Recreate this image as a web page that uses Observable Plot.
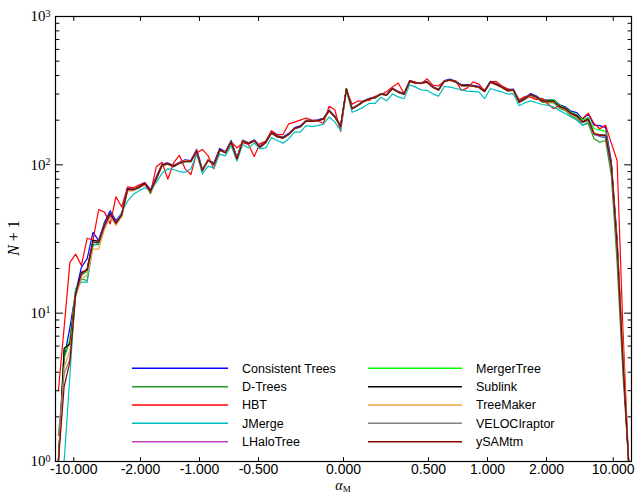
<!DOCTYPE html>
<html><head><meta charset="utf-8">
<script src="https://cdn.jsdelivr.net/npm/d3@7"></script>
<script src="https://cdn.jsdelivr.net/npm/@observablehq/plot@0.6"></script>
<style>body{margin:0;background:#fff}</style>
</head><body><div id="chart"></div>
<script>
// bin centres in alpha_M = (2/pi) arctan(beta)
const alphaBins = d3.range(100).map(i => Math.round((-0.99 + 0.02 * i) * 100) / 100);

const seriesNames = ["Consistent Trees", "D-Trees", "HBT", "JMerge", "LHaloTree",
  "MergerTree", "Sublink", "TreeMaker", "VELOCIraptor", "ySAMtm"];
const seriesColors = ["#0000ff", "#1f9a1f", "#ff0000", "#00bfbf", "#c040c0",
  "#00ff00", "#000000", "#f0a040", "#808080", "#8b0000"];

const consistentTrees = [1, 5, 8, 13.8, 20.4, 23.3, 35, 31, 41, 49,
 42, 47, 68, 69, 70, 76, 68, 83, 101, 103,
 99, 104, 108, 107, 126, 93, 109, 103, 129, 123,
 146, 112, 147, 141, 147, 134, 144, 167, 157, 154,
 163, 178, 183, 200, 199, 201, 206, 235, 213, 183,
 327, 241, 254, 270, 281, 287, 302, 298, 330, 312,
 303, 370, 360, 358, 365, 337, 323, 370, 378, 366,
 346, 347, 344, 338, 318, 366, 353, 338, 321, 324,
 270, 284, 302, 291, 274, 273, 275, 254, 246, 230,
 225, 203, 220, 185, 184, 179, 105, 32, 5, 1];
const dTrees = [1, 5, 6.5, 14.6, 17, 16.6, 29, 29, 38, 46,
 40, 45, 67, 67, 70, 74, 64, 80, 99, 101,
 97, 102, 105, 105, 123, 91, 107, 100, 126, 120,
 142, 109, 145, 138, 145, 131, 141, 164, 154, 151,
 160, 175, 180, 197, 196, 198, 203, 231, 210, 181,
 328, 238, 251, 267, 278, 283, 299, 295, 326, 308,
 299, 368, 355, 355, 361, 333, 319, 365, 372, 360,
 341, 341, 338, 332, 311, 360, 346, 331, 314, 317,
 262, 276, 294, 282, 264, 263, 262, 240, 232, 214,
 205, 185, 190, 150, 142, 146, 85, 22, 4, 1];
const hbt = [3, 8, 22, 25, 21, 32, 31, 50, 48, 40,
 61, 52, 71, 70, 73, 76, 65, 97, 104, 80,
 103, 116, 94, 86, 120, 127, 115, 94, 124, 122,
 143, 130, 141, 137, 114, 139, 144, 170, 160, 160,
 189, 194, 200, 207, 200, 198, 190, 248, 235, 168,
 320, 256, 269, 270, 272, 290, 298, 312, 335, 356,
 303, 370, 362, 352, 380, 345, 340, 368, 372, 368,
 317, 330, 362, 350, 315, 362, 365, 340, 325, 318,
 275, 289, 286, 275, 281, 257, 239, 252, 239, 223,
 215, 205, 223, 190, 175, 185, 140, 107, 8, 1];
const jMerge = [1, 1, 3.8, 14.6, 16.2, 16.2, 28.5, 30, 37, 45,
 41, 48, 57, 63, 67, 70, 67, 76, 88, 94,
 93, 90, 89, 94, 118, 87, 98, 95, 118, 115,
 135, 106, 137, 130, 140, 128, 130, 153, 146, 140,
 150, 166, 166, 184, 181, 184, 188, 210, 194, 170,
 314, 226, 234, 245, 260, 260, 286, 270, 301, 287,
 279, 346, 334, 320, 318, 301, 290, 338, 334, 327,
 320, 314, 312, 310, 279, 327, 318, 310, 300, 302,
 250, 262, 270, 262, 255, 252, 245, 232, 222, 210,
 200, 185, 195, 162, 155, 152, 100, 28, 5, 1];
const lHaloTree = [1, 5.6, 6.4, 13.8, 18, 20, 31, 31, 40, 47,
 41, 47, 70, 68, 71, 75, 68, 82, 101, 103,
 99, 104, 106, 107, 128, 93, 108, 102, 127, 122,
 144, 111, 146, 140, 146, 133, 142, 166, 155, 153,
 161, 177, 181, 199, 197, 199, 205, 232, 212, 182,
 324, 240, 252, 268, 280, 285, 301, 297, 328, 310,
 301, 366, 357, 356, 362, 335, 321, 367, 374, 362,
 344, 343, 340, 334, 314, 362, 349, 335, 318, 320,
 266, 280, 298, 286, 270, 269, 268, 247, 238, 222,
 212, 193, 200, 160, 156, 156, 95, 27, 4.5, 1];
const mergerTree = [1, 5.5, 6.6, 14, 18, 19, 30, 30, 39, 46,
 40, 46, 68, 68, 70, 74, 66, 80, 99, 101,
 98, 103, 105, 105, 123, 92, 108, 101, 126, 121,
 143, 110, 145, 139, 145, 132, 141, 164, 155, 152,
 161, 176, 180, 198, 196, 199, 204, 231, 210, 182,
 327, 239, 252, 268, 279, 284, 300, 296, 327, 309,
 300, 366, 356, 356, 362, 334, 320, 366, 373, 361,
 343, 343, 340, 334, 313, 361, 348, 334, 317, 320,
 266, 280, 298, 287, 271, 272, 275, 251, 243, 226,
 218, 200, 208, 175, 172, 168, 100, 28, 5, 1];
const sublink = [1, 5.8, 6.2, 13.5, 18.5, 19.8, 31, 30.5, 39, 47,
 40.5, 46, 69, 68, 71, 75, 67, 81, 100, 102,
 98, 103, 106, 106, 124, 92, 108, 101, 127, 121,
 143, 110, 146, 139, 146, 132, 142, 165, 155, 152,
 161, 176, 181, 198, 197, 199, 204, 232, 211, 182,
 325, 239, 252, 268, 279, 284, 300, 296, 327, 309,
 300, 366, 356, 356, 362, 334, 320, 366, 374, 362,
 343, 343, 340, 334, 313, 362, 349, 334, 317, 320,
 265, 279, 298, 286, 269, 269, 269, 248, 240, 223,
 215, 195, 204, 163, 160, 160, 100, 30, 5, 1];
const treeMaker = [1, 4.3, 5.6, 13, 17, 18, 27, 27, 37, 45,
 39, 45, 67, 67, 70, 73, 66, 80, 99, 101,
 97, 103, 107, 105, 122, 92, 109, 100, 125, 122,
 141, 110, 147, 138, 145, 132, 141, 164, 154, 151,
 160, 175, 180, 197, 196, 198, 203, 230, 210, 181,
 322, 238, 251, 266, 278, 283, 299, 295, 325, 308,
 299, 364, 354, 354, 360, 333, 318, 364, 371, 360,
 341, 341, 338, 332, 311, 359, 347, 332, 315, 318,
 263, 277, 296, 284, 267, 267, 266, 245, 236, 219,
 210, 192, 200, 165, 158, 160, 98, 30, 6, 1];
const velociraptor = [1.5, 3.9, 4.9, 13, 18, 19.5, 30, 30, 39, 46,
 40, 46, 68, 68, 70, 74, 66, 80, 99, 101,
 97, 102, 105, 105, 123, 91, 107, 100, 126, 120,
 142, 109, 145, 138, 145, 131, 141, 164, 154, 151,
 160, 175, 180, 197, 196, 198, 203, 231, 210, 181,
 323, 238, 251, 267, 278, 283, 299, 295, 326, 308,
 299, 365, 355, 355, 361, 333, 319, 365, 373, 361,
 342, 342, 339, 333, 312, 361, 348, 333, 316, 319,
 264, 278, 297, 285, 268, 268, 267, 246, 238, 221,
 212, 193, 201, 161, 158, 158, 98, 29, 5, 1];
const ySAMtm = [1, 3.2, 4.7, 13.5, 18.9, 19.5, 30, 30, 39, 46.5,
 40.5, 46, 68, 68, 70.5, 74.5, 66.5, 80.5, 99.5, 101.5,
 97.5, 102.5, 105.5, 105.5, 123, 91.5, 107.5, 100.5, 126, 120.5,
 142, 109.5, 145, 138.5, 145.5, 131.5, 141.5, 164, 154.5, 151.5,
 160.5, 175, 180.5, 197, 196, 198.5, 203.5, 231, 210.5, 181.5,
 324, 238.5, 251.5, 267.5, 278.5, 283.5, 299.5, 295.5, 326, 308.5,
 299.5, 365, 355.5, 355.5, 361, 333.5, 319.5, 365, 373, 361.5,
 342.5, 342.5, 339.5, 333.5, 312.5, 361, 348.5, 333.5, 316.5, 319.5,
 264.5, 278.5, 297.5, 285.5, 268.5, 268.5, 268, 247, 239, 222,
 213, 194, 202, 162, 158, 158, 99, 29, 5, 1];

const seriesValues = [consistentTrees, dTrees, hbt, jMerge, lHaloTree,
  mergerTree, sublink, treeMaker, velociraptor, ySAMtm];

const xTickValues = [-10, -2, -1, -0.5, 0, 0.5, 1, 2, 10];
const xTickLabels = ["-10.000", "-2.000", "-1.000", "-0.500", "0.000", "0.500", "1.000", "2.000", "10.000"];
const yMajorTicks = [1, 10, 100, 1000];
const yTickExponents = ["0", "1", "2", "3"];
const yMinorTicks = [2, 3, 4, 5, 6, 7, 8, 9, 20, 30, 40, 50, 60, 70, 80, 90, 200, 300, 400, 500, 600, 700, 800, 900];

const toAlpha = b => 2 / Math.PI * Math.atan(b);
const xTickAlphas = xTickValues.map(toAlpha);

const data = seriesNames.flatMap((name, s) =>
  seriesValues[s].map((v, i) => ({series: name, alpha: alphaBins[i], value: v})));

const tickShape = {draw(ctx, l) { ctx.moveTo(0, 0); ctx.lineTo(0, -l); }};
const tickOpts = {anchor: "start", shape: tickShape, stroke: "black", strokeWidth: 1};

const plot = Plot.plot({
  width: 636, height: 492,
  marginLeft: 55, marginRight: 5, marginTop: 16, marginBottom: 31,
  style: {background: "white", fontFamily: "Liberation Sans", fontSize: "14px", color: "black"},
  x: {domain: [-1, 1]},
  y: {type: "log", domain: [1, 1000]},
  marks: [
    ...seriesNames.map((name, s) => Plot.line(data.filter(d => d.series === name),
      {x: "alpha", y: "value", stroke: seriesColors[s], strokeWidth: 1.2, clip: true})),
    Plot.frame({stroke: "black", strokeWidth: 1.2}),
    Plot.vector(xTickAlphas, {x: d => d, frameAnchor: "bottom", length: 4, rotate: 0, ...tickOpts}),
    Plot.vector(xTickAlphas, {x: d => d, frameAnchor: "top", length: 4, rotate: 180, ...tickOpts}),
    Plot.vector(yMajorTicks, {y: d => d, frameAnchor: "left", length: 7, rotate: 90, ...tickOpts}),
    Plot.vector(yMajorTicks, {y: d => d, frameAnchor: "right", length: 7, rotate: -90, ...tickOpts}),
    Plot.vector(yMinorTicks, {y: d => d, frameAnchor: "left", length: 3.5, rotate: 90, ...tickOpts}),
    Plot.vector(yMinorTicks, {y: d => d, frameAnchor: "right", length: 3.5, rotate: -90, ...tickOpts}),
    Plot.axisX(xTickAlphas, {tickSize: 0, tickPadding: 3, fontSize: 14, label: null,
      tickFormat: d => xTickLabels[xTickAlphas.indexOf(d)]}),
    Plot.axisY(yMajorTicks, {tickSize: 0, tickPadding: 5, fontSize: 15, fontFamily: "Liberation Serif", label: null,
      tickFormat: d => "10^" + yTickExponents[yMajorTicks.indexOf(d)]})
  ]
});

document.getElementById("chart").appendChild(plot);
const svg = d3.select(plot);

// superscript exponents on y tick labels
svg.selectAll('g[aria-label="y-axis tick label"] text').each(function() {
  const t = d3.select(this);
  const [base, exp] = t.text().split("^");
  t.text(null);
  t.append("tspan").text(base);
  t.append("tspan").attr("dy", "-0.45em").attr("font-size", 10).text(exp);
});

// axis labels
const yl = svg.append("text").attr("transform", "translate(19,238) rotate(-90)")
  .attr("text-anchor", "middle").attr("font-family", "Liberation Serif").attr("font-size", 16).attr("fill", "black");
yl.append("tspan").attr("font-style", "italic").text("N");
yl.append("tspan").text(" + 1");

const xl = svg.append("text").attr("x", 343).attr("y", 489.5)
  .attr("text-anchor", "middle").attr("font-family", "Liberation Serif").attr("font-size", 14).attr("fill", "black");
xl.append("tspan").attr("font-style", "italic").text("α");
xl.append("tspan").attr("font-size", 9).attr("dy", 2).text("M");

// legend
const legendRows = [368.3, 386.7, 405, 423.3, 441.7];
const legendCols = [{x1: 132, x2: 228, tx: 242}, {x1: 368, x2: 462, tx: 476}];
const lg = svg.append("g").attr("text-anchor", "start");
seriesNames.forEach((name, s) => {
  const c = legendCols[Math.floor(s / 5)], y = legendRows[s % 5];
  lg.append("line").attr("x1", c.x1).attr("x2", c.x2).attr("y1", y).attr("y2", y)
    .attr("stroke", seriesColors[s]).attr("stroke-width", 1.5);
  lg.append("text").attr("x", c.tx).attr("y", y).attr("dy", "0.35em").attr("text-anchor", "start")
    .attr("font-family", "Liberation Sans").attr("font-size", 12.5).attr("fill", "black").text(name);
});
</script></body></html>
